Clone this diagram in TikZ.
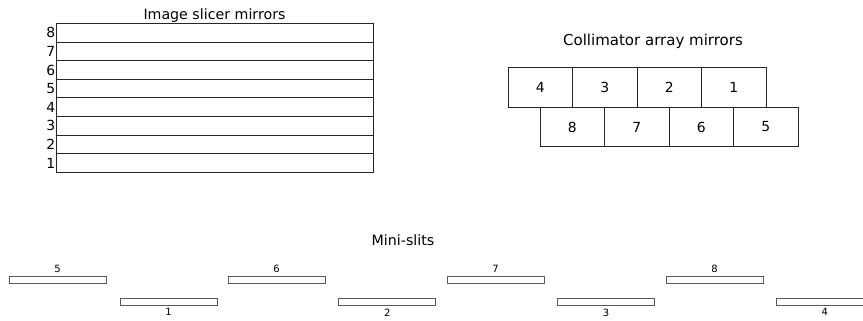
\documentclass[tikz,border=0pt]{standalone}
\usepackage{fontspec}
\setmainfont{DejaVu Sans}
\begin{document}
\begin{tikzpicture}[x=1pt,y=-1pt,
  title/.style={font=\fontsize{14.2}{16}\selectfont, inner sep=0pt, anchor=base},
  rowlabel/.style={font=\fontsize{13.9}{16}\selectfont, inner sep=0pt, anchor=east},
  mirror/.style={draw=black!85, line width=0.8pt, minimum width=64.5pt, minimum height=39.5pt,
    inner sep=0pt, font=\fontsize{13.9}{16}\selectfont},
  slit/.style={draw=black!65, line width=0.8pt, fill=white, minimum width=97pt, minimum height=7pt, inner sep=0pt},
  slitlabel/.style={font=\fontsize{10}{12}\selectfont, inner sep=0pt}]
\useasboundingbox (0,0) rectangle (863,321);

% ---- image slicer: eight stacked strips ----
\node[title] (slicertitle) at (214.5,20) {Image slicer mirrors};
\foreach \i in {1,...,8} {
  \pgfmathsetmacro{\top}{172-\i*18.625}
  \node[draw=black!85, line width=0.8pt, minimum width=317pt, minimum height=18.625pt,
        inner sep=0pt, anchor=north west] (strip\i) at (56,\top) {};
  \node[rowlabel] (striplabel\i) at ([xshift=-0.5pt]strip\i.west) {\i};
}

% ---- collimator array: two offset rows of four ----
\node[title, font=\fontsize{15}{17}\selectfont] (colltitle) at (653,46) {Collimator array mirrors};
\foreach \n [count=\k] in {4,3,2,1} {
  \node[mirror] (cmA\n) at ({508+32.25+(\k-1)*64.5},87.5) {\n};
}
\foreach \n [count=\k] in {8,7,6,5} {
  \node[mirror] (cmB\n) at ({540+32.25+(\k-1)*64.5},127) {\n};
}

% ---- mini-slits: two staggered rows ----
\node[title] (slittitle) at (403,245) {Mini-slits};
\foreach \n [count=\k] in {5,6,7,8} {
  \node[slit] (slit\n) at ({57.5+(\k-1)*219},279.5) {};
  \node[slitlabel, anchor=south] (slitlab\n) at ([yshift=2.5pt]slit\n.north) {\n};
}
\foreach \n [count=\k] in {1,2,3,4} {
  \node[slit] (slit\n) at ({168.5+(\k-1)*218.8},301.5) {};
  \node[slitlabel, anchor=north] (slitlab\n) at ([yshift=-3pt]slit\n.south) {\n};
}
\end{tikzpicture}
\end{document}
